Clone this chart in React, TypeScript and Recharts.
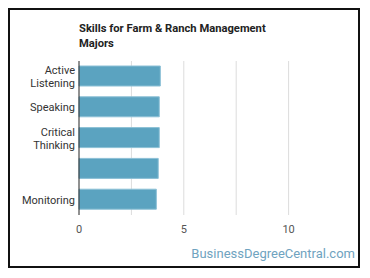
import React from 'react';
import { BarChart, Bar, XAxis, YAxis, CartesianGrid } from 'recharts';

const skills = [
  'Active Listening',
  'Speaking',
  'Critical Thinking',
  'Judgment and Decision Making',
  'Monitoring',
];
const scores = [3.88, 3.83, 3.83, 3.78, 3.69];
const xTicks = [0, 2.5, 5, 7.5, 10];
const gridValues = [2.5, 5, 7.5, 10];

const data = skills.map((skill, i) => ({ skill, score: scores[i] }));

const FONT = 'Roboto, "Noto Sans", sans-serif';

// split a label into short lines, drop it if it would need too many
const wrap = (text: string): string[] => {
  const words = text.split(' ');
  const lines: string[] = [];
  let cur = '';
  words.forEach((w) => {
    if (cur && (cur + ' ' + w).length > 10) {
      lines.push(cur);
      cur = w;
    } else {
      cur = cur ? cur + ' ' + w : w;
    }
  });
  if (cur) lines.push(cur);
  return lines.length > 2 ? [] : lines;
};

const SkillTick = (props: any) => {
  const { x, y, payload } = props;
  const lines = wrap(payload.value);
  const start = -((lines.length - 1) * 13) / 2;
  const tx = x + 4;
  return (
    <text
      x={tx}
      y={y}
      textAnchor="end"
      fill="#333"
      fontSize={11}
      fontFamily={FONT}
    >
      {lines.map((l, i) => (
        <tspan key={i} x={tx} dy={i === 0 ? start + 4 : 13}>
          {l}
        </tspan>
      ))}
    </text>
  );
};

const App: React.FC = () => {
  return (
    <div style={{ position: 'relative', width: 352, height: 260 }}>
      <div
        style={{
          position: 'absolute',
          inset: 0,
          border: '2px solid #111',
          boxSizing: 'border-box',
        }}
      />
      <div
        style={{
          position: 'absolute',
          left: 71,
          top: 13,
          fontFamily: FONT,
          fontWeight: 700,
          fontSize: 11.2,
          lineHeight: '15px',
          color: '#222',
          width: 200,
        }}
      >
        Skills for Farm &amp; Ranch Management Majors
      </div>
      <div style={{ position: 'absolute', left: 0, top: 0 }}>
        <BarChart
          width={352}
          height={260}
          data={data}
          layout="vertical"
          margin={{ top: 53, right: 19, left: 7, bottom: 23 }}
          barSize={20}
        >
          <CartesianGrid
            horizontal={false}
            verticalValues={gridValues}
            stroke="#dcdcdc"
          />
          <XAxis
            type="number"
            domain={[0, 12.5]}
            ticks={xTicks}
            axisLine={false}
            tickLine={false}
            height={30}
            tickFormatter={(v: number) => (Number.isInteger(v) ? String(v) : '')}
            tick={{ fill: '#555', fontSize: 11, fontFamily: FONT }}
            tickMargin={4}
          />
          <YAxis
            type="category"
            dataKey="skill"
            width={64}
            axisLine={{ stroke: '#222' }}
            tickLine={false}
            tick={<SkillTick />}
          />
          <Bar
            dataKey="score"
            fill="#5ba3c0"
            stroke="#8cc0d6"
            strokeWidth={1}
            isAnimationActive={false}
          />
        </BarChart>
      </div>
      <div
        style={{
          position: 'absolute',
          right: 5,
          top: 238,
          fontFamily: FONT,
          fontSize: 13,
          color: '#6fa3c0',
        }}
      >
        BusinessDegreeCentral.com
      </div>
    </div>
  );
};

export default App;
